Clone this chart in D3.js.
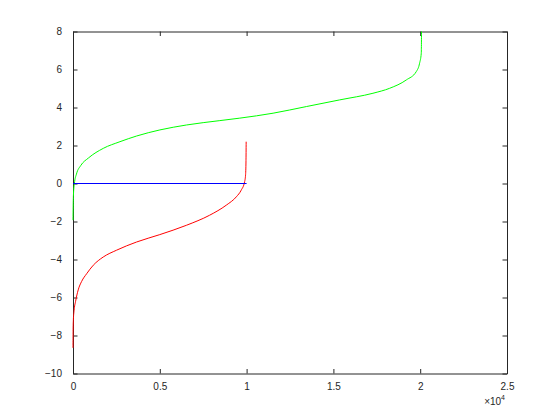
<!DOCTYPE html>
<html>
<head>
<meta charset="utf-8">
<script src="https://cdn.jsdelivr.net/npm/d3@7"></script>
<style>
  body { margin: 0; background: #fff; }
  text { font-family: "Liberation Sans", Arial, sans-serif; font-size: 10px; fill: #262626; }
</style>
</head>
<body>
<script>
// sorted samples
const redX = [0, 5, 20, 60, 150, 300, 500, 785, 1170, 1740, 2510, 3660, 5000, 6530, 7870, 8830, 9410, 9690, 9885, 9940, 9965, 9975]
const redY = [-8.65, -7.8, -7.2, -6.7, -6.2, -5.6, -5.15, -4.75, -4.3, -3.87, -3.51, -3.08, -2.69, -2.2, -1.67, -1.14, -0.70, -0.35, 0.09, 0.44, 1.2, 2.2]

const greenX = [0, 10, 30, 80, 200, 450, 900, 1745, 2705, 3664, 5006, 6540, 8458, 9609, 11526, 13445, 15362, 17279, 18239, 19200, 19775, 19965, 20062, 20080]
const greenY = [-1.93, -1.2, -0.5, 0, 0.5, 0.95, 1.35, 1.85, 2.2, 2.5, 2.82, 3.08, 3.31, 3.44, 3.70, 4.05, 4.40, 4.75, 5.01, 5.45, 5.89, 6.33, 6.86, 8.6]

const zeroX = [0, 10000]
const zeroY = [0, 0]

const xTicks = [0, 5000, 10000, 15000, 20000, 25000]
const xTickLabels = ['0', '0.5', '1', '1.5', '2', '2.5']
const yTicks = [-10, -8, -6, -4, -2, 0, 2, 4, 6, 8]

const m = { width: 560, height: 420, left: 73, right: 507, top: 31.5, bottom: 373.5 }

const svg = d3.select('body').append('svg')
    .attr('width', m.width)
    .attr('height', m.height)

const x = d3.scaleLinear().domain([0, 25000]).range([m.left, m.right])
const y = d3.scaleLinear().domain([-10, 8]).range([m.bottom, m.top])

// box with inward ticks on all four sides
const axisColor = '#262626'
const tl = 4.5

svg.append('g')
    .attr('transform', `translate(0,${m.bottom})`)
    .call(d3.axisBottom(x).tickValues(xTicks).tickFormat((d, i) => xTickLabels[i]).tickSizeInner(-tl).tickSizeOuter(0).tickPadding(9))
svg.append('g')
    .attr('transform', `translate(0,${m.top})`)
    .call(d3.axisTop(x).tickValues(xTicks).tickFormat('').tickSizeInner(-tl).tickSizeOuter(0))
svg.append('g')
    .attr('transform', `translate(${m.left},0)`)
    .call(d3.axisLeft(y).tickValues(yTicks).tickSizeInner(-tl).tickSizeOuter(0).tickPadding(11))
svg.append('g')
    .attr('transform', `translate(${m.right},0)`)
    .call(d3.axisRight(y).tickValues(yTicks).tickFormat('').tickSizeInner(-tl).tickSizeOuter(0))

svg.selectAll('.domain').attr('stroke', axisColor)
svg.selectAll('.tick line').attr('stroke', axisColor)
svg.selectAll('.tick text').attr('font-size', 10).attr('font-family', '"Liberation Sans", Arial, sans-serif').attr('fill', axisColor)

// exponent label
const ex = svg.append('text')
    .attr('x', m.right - 2)
    .attr('y', 405)
    .attr('text-anchor', 'end')
ex.append('tspan').text('\u00d710')
ex.append('tspan').attr('dy', -5).attr('font-size', 7).text('4')

// lines go on top of the box so the parts at x=0 show
svg.append('clipPath').attr('id', 'clip')
    .append('rect')
    .attr('x', m.left - 1).attr('y', m.top)
    .attr('width', m.right - m.left + 1).attr('height', m.bottom - m.top)

const line = d3.line()
    .x(d => x(d[0]))
    .y(d => y(d[1]))
    .curve(d3.curveMonotoneX)

const plot = svg.append('g').attr('clip-path', 'url(#clip)')

plot.append('path')
    .datum(greenX.map((v, i) => [v, greenY[i]]))
    .attr('fill', 'none')
    .attr('stroke', '#00ff00')
    .attr('stroke-width', 1)
    .attr('d', line)

plot.append('path')
    .datum(redX.map((v, i) => [v, redY[i]]))
    .attr('fill', 'none')
    .attr('stroke', '#ff0000')
    .attr('stroke-width', 1)
    .attr('d', line)

plot.append('path')
    .datum(zeroX.map((v, i) => [v, zeroY[i]]))
    .attr('fill', 'none')
    .attr('stroke', '#0000ff')
    .attr('stroke-width', 1)
    .attr('d', d3.line().x(d => x(d[0])).y(d => y(d[1])))
</script>
</body>
</html>
